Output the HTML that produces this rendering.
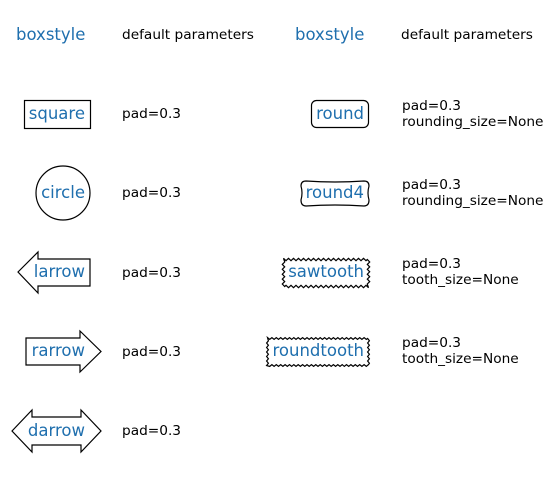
<!DOCTYPE html>
<html><head><meta charset="utf-8"><style>
html,body{margin:0;padding:0;background:#fff;width:555px;height:477px;overflow:hidden}
svg text{font-family:"DejaVu Sans","Liberation Sans",sans-serif}
.b{fill:#1f6fae;font-size:16.5px}
.k{fill:#000;font-size:13.7px}
.s{fill:none;stroke:#000;stroke-width:1.2}
</style></head><body>
<svg width="555" height="477" viewBox="0 0 555 477" xmlns="http://www.w3.org/2000/svg">
<text class="b" x="16" y="40">boxstyle</text>
<text class="k" x="122" y="39">default parameters</text>
<text class="b" x="295" y="40">boxstyle</text>
<text class="k" x="401" y="39">default parameters</text>

<rect class="s" x="24.5" y="100.5" width="66" height="28"/>
<text class="b" x="85" y="119" text-anchor="end">square</text>
<text class="k" x="122" y="118">pad=0.3</text>

<circle class="s" cx="63" cy="193" r="27"/>
<text class="b" x="85" y="198" text-anchor="end">circle</text>
<text class="k" x="122" y="197">pad=0.3</text>

<path class="s" d="M18,272 L38,252 L38,259 L90,259 L90,286 L38,286 L38,293 Z"/>
<text class="b" x="85" y="277" text-anchor="end">larrow</text>
<text class="k" x="122" y="277">pad=0.3</text>

<path class="s" d="M26,338 L80,338 L80,331 L101,351.5 L80,372 L80,365 L26,365 Z"/>
<text class="b" x="85" y="356" text-anchor="end">rarrow</text>
<text class="k" x="122" y="356">pad=0.3</text>

<path class="s" d="M12,431 L32,410 L32,417 L81,417 L81,410 L101,431 L81,452 L81,445 L32,445 L32,452 Z"/>
<text class="b" x="85" y="436" text-anchor="end">darrow</text>
<text class="k" x="122" y="435">pad=0.3</text>

<rect class="s" x="311.5" y="100.5" width="57" height="27" rx="5"/>
<text class="b" x="364" y="119" text-anchor="end">round</text>
<text class="k" x="402" y="110">pad=0.3</text>
<text class="k" x="402" y="126">rounding_size=None</text>

<path class="s" d="M306,181 Q335,183 364,181 Q369,181 369,186 Q367,193 369,200 Q369,206 364,206 Q335,204 306,206 Q301,206 301,200 Q303,193 301,186 Q301,181 306,181 Z"/>
<text class="b" x="364" y="198" text-anchor="end">round4</text>
<text class="k" x="402" y="189">pad=0.3</text>
<text class="k" x="402" y="205">rounding_size=None</text>

<path id="saw" class="s" d=""/>
<text class="b" x="364" y="277" text-anchor="end">sawtooth</text>
<text class="k" x="402" y="268">pad=0.3</text>
<text class="k" x="402" y="284">tooth_size=None</text>

<path id="rt" class="s" d=""/>
<text class="b" x="364" y="356" text-anchor="end">roundtooth</text>
<text class="k" x="402" y="347">pad=0.3</text>
<text class="k" x="402" y="363">tooth_size=None</text>
</svg>
<script>
function zig(x0,y0,x1,y1,a,step){
  var pts=[],i=0;
  function edge(ax,ay,bx,by,nx,ny){
    var L=Math.hypot(bx-ax,by-ay),n=Math.round(L/step);
    for(var k=0;k<n;k++){var t=k/n,s=(i++%2?a:-a);
      pts.push([ax+(bx-ax)*t+nx*s, ay+(by-ay)*t+ny*s]);}
  }
  edge(x0,y0,x1,y0,0,1);edge(x1,y0,x1,y1,1,0);edge(x1,y1,x0,y1,0,1);edge(x0,y1,x0,y0,1,0);
  return "M"+pts.map(function(p){return p[0].toFixed(1)+","+p[1].toFixed(1)}).join(" L")+" Z";
}
document.getElementById("saw").setAttribute("d",zig(283.5,259.5,368.5,286.5,1.2,2.5));
document.getElementById("rt").setAttribute("d",zig(267.5,338.5,368.5,365.5,0.9,2.2));
</script>
</body></html>
